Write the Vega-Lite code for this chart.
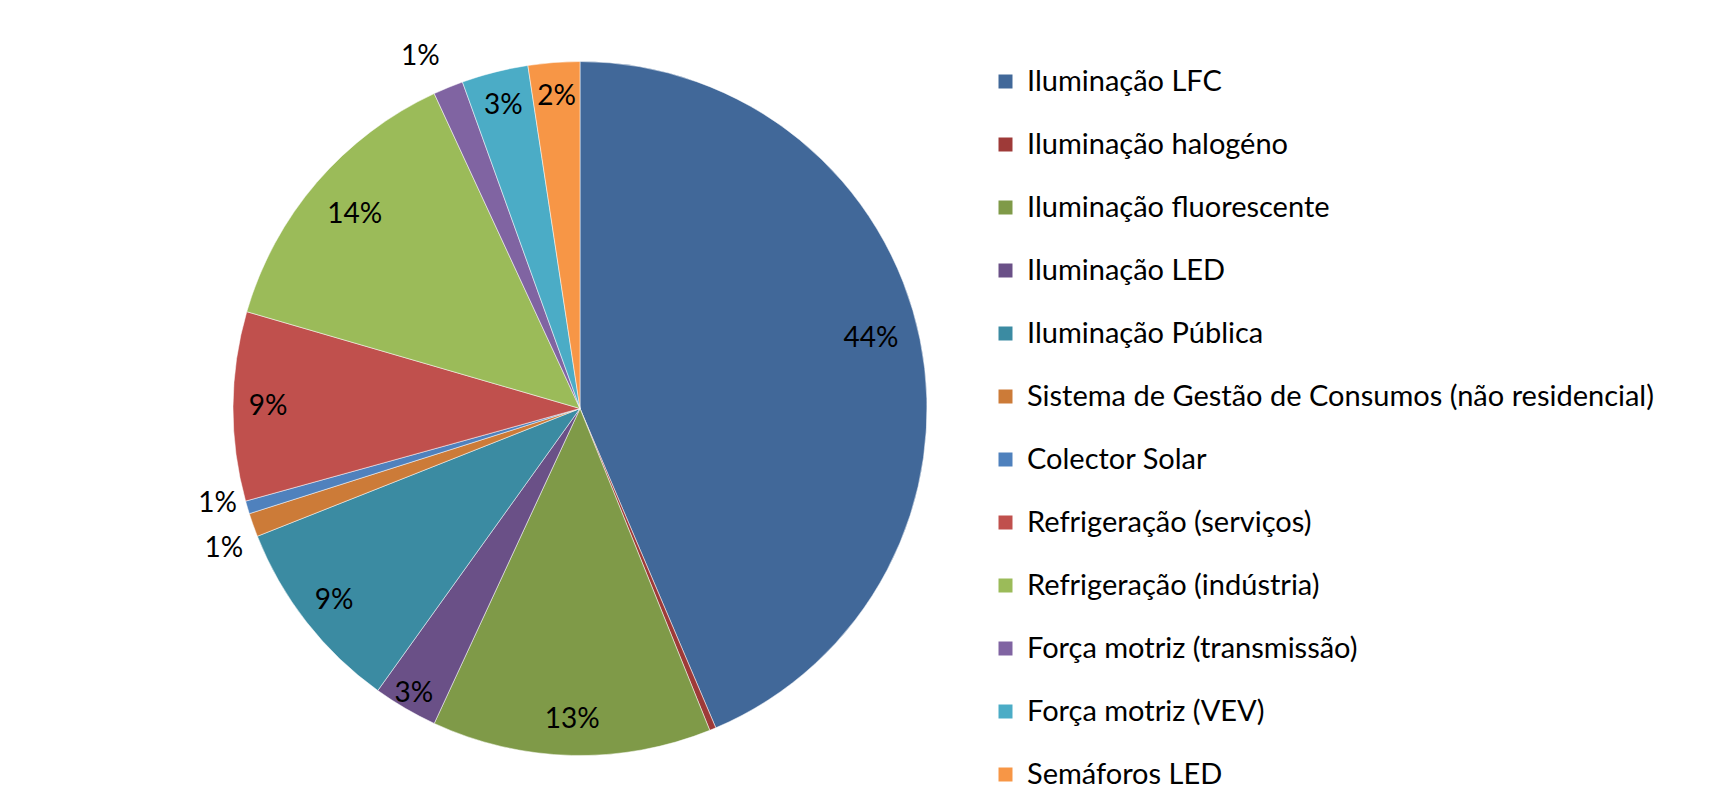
{
  "$schema": "https://vega.github.io/schema/vega-lite/v6.json",
  "width": 1138,
  "height": 797,
  "autosize": {"type": "pad"},
  "padding": {"left": 11, "top": 10, "right": 0, "bottom": 0},
  "background": "white",
  "config": {"view": {"stroke": null}, "font": "Lato"},
  "data": {
    "values": [
      {"ordem": 1, "categoria": "Iluminação LFC", "valor": 0.436},
      {"ordem": 2, "categoria": "Iluminação halogéno", "valor": 0.003},
      {"ordem": 3, "categoria": "Iluminação fluorescente", "valor": 0.130},
      {"ordem": 4, "categoria": "Iluminação LED", "valor": 0.030},
      {"ordem": 5, "categoria": "Iluminação Pública", "valor": 0.091},
      {"ordem": 6, "categoria": "Sistema de Gestão de Consumos (não residencial)", "valor": 0.011},
      {"ordem": 7, "categoria": "Colector Solar", "valor": 0.006},
      {"ordem": 8, "categoria": "Refrigeração (serviços)", "valor": 0.088},
      {"ordem": 9, "categoria": "Refrigeração (indústria)", "valor": 0.136},
      {"ordem": 10, "categoria": "Força motriz (transmissão)", "valor": 0.014},
      {"ordem": 11, "categoria": "Força motriz (VEV)", "valor": 0.031},
      {"ordem": 12, "categoria": "Semáforos LED", "valor": 0.024}
    ]
  },
  "encoding": {
    "theta": {"field": "valor", "type": "quantitative", "stack": true},
    "order": {"field": "ordem", "type": "quantitative"}
  },
  "layer": [
    {
      "mark": {"type": "arc", "outerRadius": 347, "stroke": "white", "strokeWidth": 0.5},
      "encoding": {
        "color": {
          "field": "categoria",
          "type": "nominal",
          "sort": null,
          "scale": {
            "domain": ["Iluminação LFC", "Iluminação halogéno", "Iluminação fluorescente", "Iluminação LED", "Iluminação Pública", "Sistema de Gestão de Consumos (não residencial)", "Colector Solar", "Refrigeração (serviços)", "Refrigeração (indústria)", "Força motriz (transmissão)", "Força motriz (VEV)", "Semáforos LED"],
            "range": ["#416899", "#9E3A38", "#7F9A48", "#6A5087", "#3B8BA2", "#CC7B38", "#4F81BD", "#C0504D", "#9BBB59", "#8064A2", "#4BACC6", "#F79646"]
          },
          "legend": {
            "orient": "none",
            "legendX": 980,
            "legendY": 57,
            "title": null,
            "symbolType": "square",
            "symbolSize": 196,
            "symbolStrokeWidth": 0,
            "symbolOpacity": 1,
            "labelFontSize": 29,
            "labelFont": "Lato",
            "labelColor": "#000000",
            "labelOffset": 7,
            "labelLimit": 1000,
            "rowPadding": 33
          }
        }
      }
    },
    {
      "mark": {"type": "text", "radius": 312, "font": "Lato", "color": "#000000"},
      "encoding": {
        "text": {"field": "valor", "type": "quantitative", "format": ".0%"},
        "size": {
          "condition": {"test": "datum.valor >= 0.02 && datum.categoria != 'Iluminação LFC' && datum.categoria != 'Refrigeração (indústria)' && datum.categoria != 'Iluminação LED'", "value": 28},
          "value": 0
        }
      }
    },
    {
      "mark": {"type": "text", "radius": 297, "dy": -10, "font": "Lato", "color": "#000000"},
      "encoding": {
        "text": {"field": "valor", "type": "quantitative", "format": ".0%"},
        "size": {"condition": {"test": "datum.categoria == 'Iluminação LFC'", "value": 28}, "value": 0}
      }
    },
    {
      "mark": {"type": "text", "radius": 297, "font": "Lato", "color": "#000000"},
      "encoding": {
        "text": {"field": "valor", "type": "quantitative", "format": ".0%"},
        "size": {"condition": {"test": "datum.categoria == 'Refrigeração (indústria)'", "value": 28}, "value": 0}
      }
    },
    {
      "mark": {"type": "text", "radius": 330, "font": "Lato", "color": "#000000"},
      "encoding": {
        "text": {"field": "valor", "type": "quantitative", "format": ".0%"},
        "size": {"condition": {"test": "datum.categoria == 'Iluminação LED'", "value": 28}, "value": 0}
      }
    },
    {
      "mark": {"type": "text", "radius": 378, "dx": -16, "dy": -2, "font": "Lato", "color": "#000000"},
      "encoding": {
        "text": {"field": "valor", "type": "quantitative", "format": ".0%"},
        "size": {"condition": {"test": "datum.categoria == 'Força motriz (transmissão)'", "value": 28}, "value": 0}
      }
    },
    {
      "mark": {"type": "text", "radius": 378, "dy": 14, "font": "Lato", "color": "#000000"},
      "encoding": {
        "text": {"field": "valor", "type": "quantitative", "format": ".0%"},
        "size": {"condition": {"test": "datum.categoria == 'Sistema de Gestão de Consumos (não residencial)'", "value": 28}, "value": 0}
      }
    },
    {
      "mark": {"type": "text", "radius": 378, "dy": -12, "font": "Lato", "color": "#000000"},
      "encoding": {
        "text": {"field": "valor", "type": "quantitative", "format": ".0%"},
        "size": {"condition": {"test": "datum.categoria == 'Colector Solar'", "value": 28}, "value": 0}
      }
    }
  ]
}
